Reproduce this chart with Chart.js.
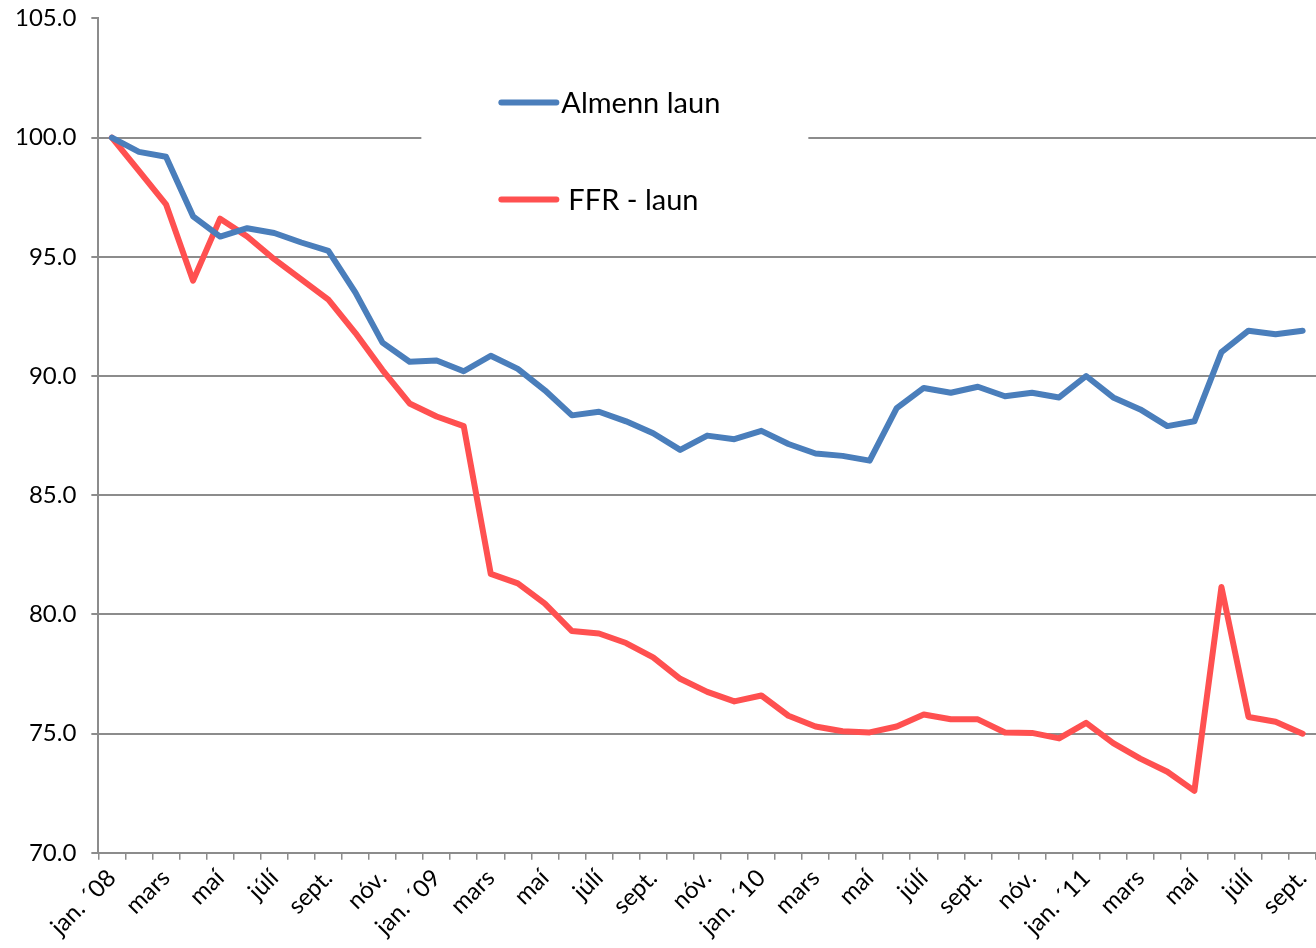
<!DOCTYPE html>
<html>
<head>
<meta charset="utf-8">
<script src="https://cdn.jsdelivr.net/npm/chart.js@4.4.0/dist/chart.umd.min.js"></script>
<style>
  html, body { margin: 0; padding: 0; background: #fff; }
  #wrap { width: 1316px; height: 948px; position: relative; overflow: hidden; }
  #inner { position: absolute; left: 0; top: -11px; width: 1327px; height: 956px; }
</style>
</head>
<body>
<div id="wrap"><div id="inner"><canvas id="wageChart"></canvas></div></div>
<script>
// Monthly categories, jan 2008 - sept 2011
const months = [
  'jan. ´08', 'feb.', 'mars', 'apríl', 'maí', 'júní', 'júlí', 'ágúst', 'sept.', 'okt.', 'nóv.', 'des.',
  'jan. ´09', 'feb.', 'mars', 'apríl', 'maí', 'júní', 'júlí', 'ágúst', 'sept.', 'okt.', 'nóv.', 'des.',
  'jan. ´10', 'feb.', 'mars', 'apríl', 'maí', 'júní', 'júlí', 'ágúst', 'sept.', 'okt.', 'nóv.', 'des.',
  'jan. ´11', 'feb.', 'mars', 'apríl', 'maí', 'júní', 'júlí', 'ágúst', 'sept.'
];

const almennLaun = [
  100.0, 99.4, 99.2, 96.7, 95.85, 96.2, 96.0, 95.6, 95.25, 93.5, 91.4, 90.6,
  90.65, 90.2, 90.85, 90.3, 89.4, 88.35, 88.5, 88.1, 87.6, 86.9, 87.5, 87.35,
  87.7, 87.15, 86.75, 86.65, 86.45, 88.65, 89.5, 89.3, 89.55, 89.15, 89.3, 89.1,
  90.0, 89.1, 88.6, 87.9, 88.1, 91.0, 91.9, 91.75, 91.9
];

const ffrLaun = [
  100.0, 98.6, 97.2, 94.0, 96.6, 95.85, 94.9, 94.05, 93.2, 91.8, 90.25, 88.85,
  88.3, 87.9, 81.7, 81.3, 80.45, 79.3, 79.2, 78.8, 78.2, 77.3, 76.75, 76.35,
  76.6, 75.75, 75.3, 75.1, 75.05, 75.3, 75.8, 75.6, 75.6, 75.05, 75.03, 74.8,
  75.45, 74.6, 73.95, 73.4, 72.6, 81.15, 75.7, 75.5, 75.0
];

const yMin = 70;
const yMax = 105;
const yStep = 5;

const gridGray = '#8c8c8c';
const fontFamily = "Lato, 'Liberation Sans', Arial, sans-serif";

// Legend drawn inside the plot on a white box (covers the gridline like Excel)
const insideLegend = {
  id: 'insideLegend',
  beforeDatasetsDraw(chart) {
    const { ctx, chartArea } = chart;
    ctx.save();
    ctx.fillStyle = '#fff';
    ctx.fillRect(chartArea.left + 323, chartArea.top + 45, 387, 170);
    ctx.restore();
  },
  afterDatasetsDraw(chart) {
    const { ctx, chartArea } = chart;
    const x0 = chartArea.left + 403;
    const rows = [chartArea.top + 84, chartArea.top + 181];
    ctx.save();
    chart.data.datasets.forEach((ds, i) => {
      const y = rows[i];
      ctx.strokeStyle = ds.borderColor;
      ctx.lineWidth = 6;
      ctx.lineCap = 'round';
      ctx.beginPath();
      ctx.moveTo(x0, y);
      ctx.lineTo(x0 + 55, y);
      ctx.stroke();
      ctx.fillStyle = '#000';
      ctx.font = '29px ' + fontFamily;
      ctx.textBaseline = 'middle';
      ctx.fillText(ds.label, x0 + 60 + (i === 1 ? 7 : 0), y + 1);
    });
    ctx.restore();
  }
};

const ctx = document.getElementById('wageChart').getContext('2d');
const wageChart = new Chart(ctx, {
  type: 'line',
  data: {
    labels: months,
    datasets: [{
      label: 'Almenn laun',
      data: almennLaun,
      borderColor: '#4a7ebb',
      backgroundColor: '#4a7ebb',
      borderWidth: 6,
      pointRadius: 0,
      tension: 0,
      borderCapStyle: 'round',
      borderJoinStyle: 'round'
    }, {
      label: 'FFR - laun',
      data: ffrLaun,
      borderColor: '#ff5050',
      backgroundColor: '#ff5050',
      borderWidth: 6,
      pointRadius: 0,
      tension: 0,
      borderCapStyle: 'round',
      borderJoinStyle: 'round'
    }]
  },
  options: {
    responsive: true,
    maintainAspectRatio: false,
    animation: false,
    layout: {
      padding: { left: 0, top: 0, right: 0, bottom: 0 }
    },
    plugins: {
      legend: { display: false },
      tooltip: { enabled: false }
    },
    scales: {
      x: {
        offset: true,
        grid: {
          offset: true,
          drawOnChartArea: false,
          color: gridGray,
          tickLength: 7,
          lineWidth: 1.5
        },
        border: { color: gridGray, width: 2 },
        ticks: {
          autoSkip: false,
          maxRotation: 45,
          minRotation: 45,
          padding: 4,
          color: '#000',
          font: { family: fontFamily, size: 24 },
          callback: function(value, index) {
            return index % 2 === 0 ? months[index] : '';
          }
        }
      },
      y: {
        min: yMin,
        max: yMax,
        ticks: {
          stepSize: yStep,
          padding: 15,
          color: '#000',
          font: { family: fontFamily, size: 24 },
          callback: v => v.toFixed(1)
        },
        grid: {
          color: c => c.tick && c.tick.value === yMax ? 'rgba(0,0,0,0)' : gridGray,
          tickColor: gridGray,
          tickLength: 7,
          lineWidth: 2
        },
        border: { color: gridGray, width: 2 }
      }
    }
  },
  plugins: [insideLegend]
});
</script>
</body>
</html>
